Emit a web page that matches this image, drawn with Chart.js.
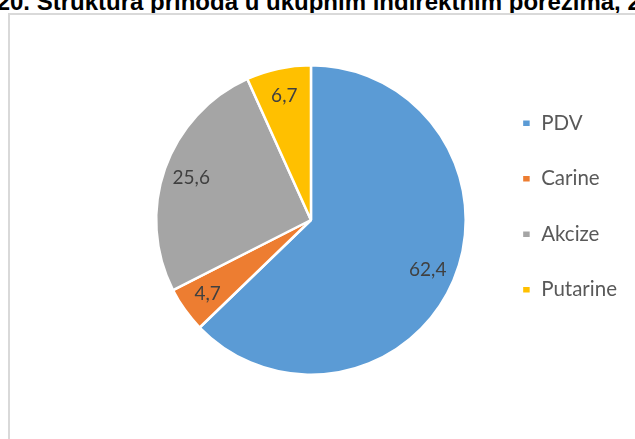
<!DOCTYPE html>
<html>
<head>
<meta charset="utf-8">
<script src="https://cdn.jsdelivr.net/npm/chart.js@4.4.0/dist/chart.umd.min.js"></script>
<style>
  html, body { margin: 0; padding: 0; background: #fff; overflow: hidden; }
  body { width: 635px; height: 439px; position: relative; }
  #title {
    position: absolute; left: 10px; top: -10px;
    font: bold 24px "Liberation Sans", Arial, sans-serif; line-height: 24px;
    color: #000; white-space: nowrap;
  }
  #title .pre { position: absolute; right: 100%; top: 0; }
  #frame {
    position: absolute; left: 8px; top: 13px; width: 700px; height: 500px;
    border: 2px solid #d9d9d9; box-sizing: border-box;
  }
  #wrap { position: absolute; left: 0; top: 0; width: 635px; height: 439px; }
</style>
</head>
<body>
<div id="title"><span class="pre">Grafikon 2</span>0. Struktura prihoda u ukupnim indirektnim porezima, 2019</div>
<div id="frame"></div>
<div id="wrap"><canvas id="pie"></canvas></div>
<script>
(function () {
  "use strict";

  /* ===== Data ===== */
  var CATEGORIES = ["PDV", "Carine", "Akcize", "Putarine"];
  var SHARES = [62.4, 4.7, 25.6, 6.7];
  var SHARE_LABELS = ["62,4", "4,7", "25,6", "6,7"];
  var COLORS = ["#5b9bd5", "#ed7d31", "#a5a5a5", "#ffc000"];

  var LABEL_FONT = { family: "Lato", size: 19 };
  var LABEL_COLOR = "#404040";
  var LABEL_RADIUS = 0.82;

  /* data labels inside each slice */
  var sliceLabels = {
    id: "sliceLabels",
    afterDatasetsDraw: function (chart) {
      var ctx = chart.ctx;
      var meta = chart.getDatasetMeta(0);
      ctx.save();
      ctx.font = LABEL_FONT.size + "px " + LABEL_FONT.family;
      ctx.fillStyle = LABEL_COLOR;
      ctx.textAlign = "center";
      ctx.textBaseline = "middle";
      meta.data.forEach(function (arc, i) {
        var p = arc.getProps(["x", "y", "startAngle", "endAngle", "outerRadius"], true);
        var mid = (p.startAngle + p.endAngle) / 2;
        var r = p.outerRadius * LABEL_RADIUS;
        ctx.fillText(SHARE_LABELS[i], p.x + Math.cos(mid) * r, p.y + Math.sin(mid) * r);
      });
      ctx.restore();
    }
  };

  var ctx = document.getElementById("pie").getContext("2d");
  new Chart(ctx, {
    type: "pie",
    data: {
      labels: CATEGORIES,
      datasets: [{
        data: SHARES,
        backgroundColor: COLORS,
        borderColor: "#ffffff",
        borderWidth: 2.5,
      }],
    },
    options: {
      responsive: true,
      maintainAspectRatio: false,
      animation: false,
      layout: { padding: { top: 64, bottom: 63, left: 135, right: 8 } },
      plugins: {
        tooltip: { enabled: false },
        legend: {
          position: "right",
          align: "start",
          title: { display: true, text: "", padding: 0, font: { size: 10, lineHeight: 1.4 } },
          labels: {
            boxWidth: 9,
            boxHeight: 8,
            padding: 35,
            color: "#595959",
            font: { family: "Lato", size: 20.5 },
          },
        },
      },
    },
    plugins: [sliceLabels],
  });
})();
</script>
</body>
</html>
